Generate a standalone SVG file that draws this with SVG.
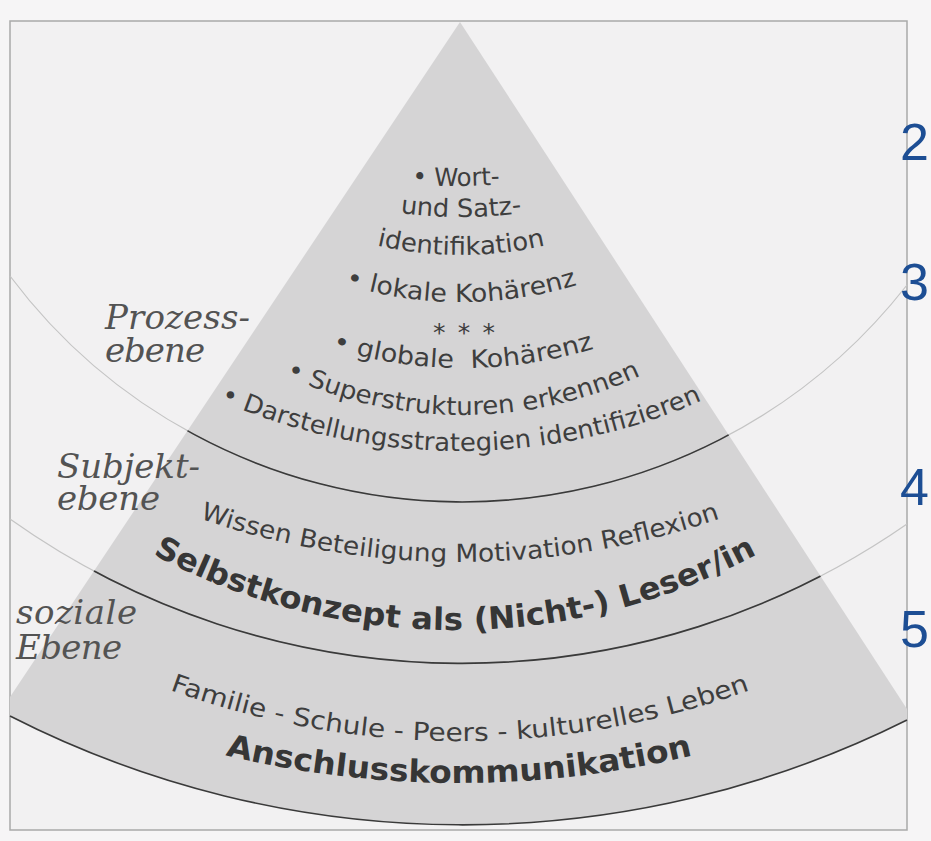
<svg xmlns="http://www.w3.org/2000/svg" width="931" height="841" viewBox="0 0 931 841">
<defs>
<style>
.lbl{font-family:"DejaVu Serif","Liberation Serif",serif;font-style:italic;font-size:34px;fill:#535353}
.t{font-family:"DejaVu Sans",Verdana,sans-serif;font-size:25px;fill:#3e3e3e}
.b{font-weight:bold;font-size:31px;fill:#363636}
.num{font-family:"Liberation Sans",Arial,sans-serif;font-size:52px;fill:#1d4e94}
.faint{fill:none;stroke:#c4c4c4;stroke-width:1.2}
.dark{fill:none;stroke:#3a3a3a;stroke-width:1.6}
</style>
<clipPath id="pyr"><path d="M460,22 L10,697 L10,716 A995,995 0 0 0 907,720 L907,709 Z"/></clipPath>
<path id="p1" d="M156,105.6 A600,600 0 0 0 756,105.6"/>
<path id="p2" d="M161,102.4 A450,450 0 0 0 761,102.4"/>
<path id="p3" d="M161,108.2 A380,380 0 0 0 761,108.2"/>
<path id="p4" d="M161,166.6 A400,400 0 0 0 761,166.6"/>
<path id="p6" d="M163,253.4 A450,450 0 0 0 763,253.4"/>
<path id="p7" d="M163,288.9 A420,420 0 0 0 763,288.9"/>
<path id="p8" d="M131,352.1 A600,600 0 0 0 791,352.1"/>
<path id="p9" d="M110,481.4 A800,800 0 0 0 810,481.4"/>
<path id="p10" d="M95,519.2 A640,640 0 0 0 815,519.2"/>
<path id="p11" d="M110,665.6 A850,850 0 0 0 810,665.6"/>
<path id="p12" d="M159,736.9 A1000,1000 0 0 0 759,736.9"/>
</defs>

<g id="background">
<rect x="0" y="0" width="931" height="841" fill="#f6f5f6"/>
<rect x="10" y="21" width="897" height="809" fill="#f2f1f2" stroke="#a9a9a9" stroke-width="1.5"/>
</g>

<g id="pyramid">
<path d="M460,22 L10,697 L10,716 A995,995 0 0 0 907,720 L907,709 Z" fill="#d5d4d5"/>
</g>

<g id="connectors">
<path class="faint" d="M10,276 A565,565 0 0 0 907,285"/>
<path class="faint" d="M10,519 A780,780 0 0 0 907,524"/>
<g clip-path="url(#pyr)">
<path class="dark" d="M10,276 A565,565 0 0 0 907,285"/>
<path class="dark" d="M10,519 A780,780 0 0 0 907,524"/>
</g>
<path class="dark" d="M10,716 A995,995 0 0 0 907,720"/>
</g>

<g id="level-labels">
<text class="lbl" x="105" y="329" textLength="145">Prozess-</text>
<text class="lbl" x="105" y="362" textLength="100">ebene</text>
<text class="lbl" x="57" y="478" textLength="143">Subjekt-</text>
<text class="lbl" x="57" y="510" textLength="103">ebene</text>
<text class="lbl" x="16" y="624" textLength="121">soziale</text>
<text class="lbl" x="16" y="659" textLength="106">Ebene</text>
</g>

<g id="prozessebene">
<text class="t"><textPath href="#p1" startOffset="50%" text-anchor="middle" textLength="88" lengthAdjust="spacingAndGlyphs">• Wort-</textPath></text>
<text class="t"><textPath href="#p2" startOffset="50%" text-anchor="middle" textLength="122" lengthAdjust="spacingAndGlyphs">und Satz-</textPath></text>
<text class="t"><textPath href="#p3" startOffset="50%" text-anchor="middle" textLength="170" lengthAdjust="spacingAndGlyphs">identifikation</textPath></text>
<text class="t"><textPath href="#p4" startOffset="50%" text-anchor="middle" textLength="236" lengthAdjust="spacingAndGlyphs">• lokale Kohärenz</textPath></text>
<text class="t" x="464" y="341" text-anchor="middle" textLength="62" font-size="22">* * *</text>
<text class="t"><textPath href="#p6" startOffset="50%" text-anchor="middle" textLength="266" lengthAdjust="spacingAndGlyphs">• globale&#160; Kohärenz</textPath></text>
<text class="t"><textPath href="#p7" startOffset="50%" text-anchor="middle" textLength="367" lengthAdjust="spacingAndGlyphs">• Superstrukturen erkennen</textPath></text>
<text class="t"><textPath href="#p8" startOffset="50%" text-anchor="middle" textLength="496" lengthAdjust="spacingAndGlyphs">• Darstellungsstrategien identifizieren</textPath></text>
</g>

<g id="subjektebene">
<text class="t"><textPath href="#p9" startOffset="50%" text-anchor="middle" textLength="530" lengthAdjust="spacingAndGlyphs">Wissen Beteiligung Motivation Reflexion</textPath></text>
<text class="t b"><textPath href="#p10" startOffset="50%" text-anchor="middle" textLength="629" lengthAdjust="spacingAndGlyphs">Selbstkonzept als (Nicht-) Leser/in</textPath></text>
</g>

<g id="soziale-ebene">
<text class="t"><textPath href="#p11" startOffset="50%" text-anchor="middle" textLength="592" lengthAdjust="spacingAndGlyphs">Familie - Schule - Peers - kulturelles Leben</textPath></text>
<text class="t b"><textPath href="#p12" startOffset="50%" text-anchor="middle" textLength="472" lengthAdjust="spacingAndGlyphs">Anschlusskommunikation</textPath></text>
</g>

<g id="numbers">
<text class="num" x="900" y="160">2</text>
<text class="num" x="900" y="300">3</text>
<text class="num" x="900" y="505">4</text>
<text class="num" x="900" y="647">5</text>
</g>
</svg>
